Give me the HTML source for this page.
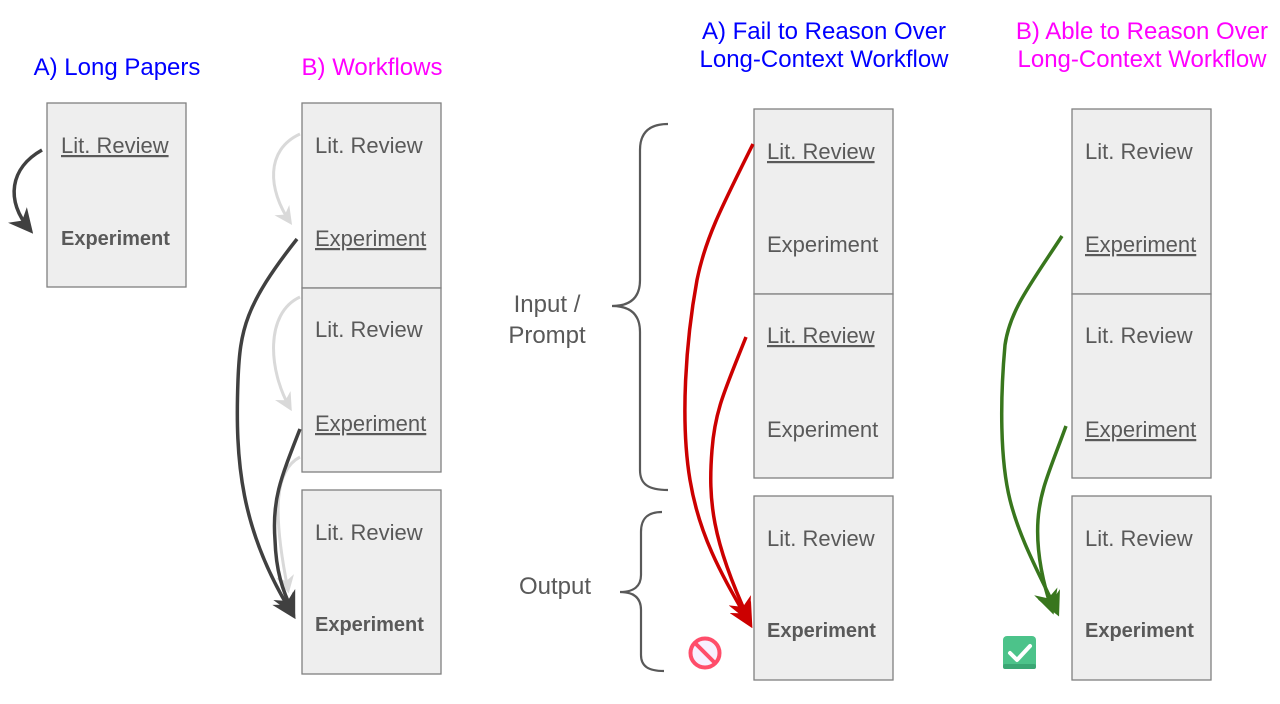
<!DOCTYPE html>
<html><head><meta charset="utf-8"><style>
html,body{margin:0;padding:0;background:#fff}
svg{display:block}
text{font-family:"Liberation Sans",Arial,sans-serif}
.t{font-size:22px;fill:#595959}
.b{font-size:20px;fill:#595959;font-weight:bold}
.box{fill:#eeeeee;stroke:#808080;stroke-width:1.3}
.ti{font-size:24px}
</style></head><body>
<svg width="1280" height="704" viewBox="0 0 1280 704" xmlns="http://www.w3.org/2000/svg">
<defs>
<marker id="ak" viewBox="0 0 10 10" refX="8" refY="5" markerWidth="7" markerHeight="7" orient="auto"><path d="M0,0 L10,5 L0,10 L3,5z" fill="#404040"/></marker>
<marker id="ag" viewBox="0 0 10 10" refX="8" refY="5" markerWidth="6" markerHeight="6" orient="auto"><path d="M0,0 L10,5 L0,10 L3,5z" fill="#d9d9d9"/></marker>
<marker id="ar" viewBox="0 0 10 10" refX="8" refY="5" markerWidth="7" markerHeight="7" orient="auto"><path d="M0,0 L10,5 L0,10 L3,5z" fill="#cc0000"/></marker>
<marker id="av" viewBox="0 0 10 10" refX="8" refY="5" markerWidth="7" markerHeight="7" orient="auto"><path d="M0,0 L10,5 L0,10 L3,5z" fill="#38761d"/></marker>
</defs>

<text class="ti" x="117" y="75" text-anchor="middle" fill="#0000ff">A) Long Papers</text>
<text class="ti" x="372" y="75" text-anchor="middle" fill="#ff00ff">B) Workflows</text>
<text class="ti" x="824" y="39" text-anchor="middle" fill="#0000ff">A) Fail to Reason Over</text>
<text class="ti" x="824" y="67" text-anchor="middle" fill="#0000ff">Long-Context Workflow</text>
<text class="ti" x="1142" y="39" text-anchor="middle" fill="#ff00ff">B) Able to Reason Over</text>
<text class="ti" x="1142" y="67" text-anchor="middle" fill="#ff00ff">Long-Context Workflow</text>

<rect class="box" x="47" y="103" width="139" height="184"/>
<text class="t" x="61" y="153" text-decoration="underline">Lit. Review</text>
<text class="b" x="61" y="245">Experiment</text>
<path d="M42,150 C10,168 5,200 30,230" fill="none" stroke="#404040" stroke-width="3.5" marker-end="url(#ak)"/>

<rect class="box" x="302" y="103" width="139" height="185"/>
<rect class="box" x="302" y="288" width="139" height="184"/>
<rect class="box" x="302" y="490" width="139" height="184"/>
<text class="t" x="315" y="153">Lit. Review</text>
<text class="t" x="315" y="246" text-decoration="underline">Experiment</text>
<text class="t" x="315" y="337">Lit. Review</text>
<text class="t" x="315" y="431" text-decoration="underline">Experiment</text>
<text class="t" x="315" y="540">Lit. Review</text>
<text class="b" x="315" y="631">Experiment</text>
<path d="M300,134 C265,150 268,190 290,222" fill="none" stroke="#d9d9d9" stroke-width="3" marker-end="url(#ag)"/>
<path d="M300,297 C265,313 268,370 290,408" fill="none" stroke="#d9d9d9" stroke-width="3" marker-end="url(#ag)"/>
<path d="M300,457 C275,470 272,510 288,590" fill="none" stroke="#d9d9d9" stroke-width="3" marker-end="url(#ag)"/>
<path d="M297,239 C245,305 240,330 238,380 C235,460 240,530 293,615" fill="none" stroke="#404040" stroke-width="3.5" marker-end="url(#ak)"/>
<path d="M300,429 C280,480 272,500 275,540 C276,570 282,590 293,612" fill="none" stroke="#404040" stroke-width="3.5" marker-end="url(#ak)"/>

<path d="M668,124 C648,124 640,134 640,150 L640,280 C640,298 630,306 612,306 C630,306 640,314 640,332 L640,470 C640,484 648,490 668,490" fill="none" stroke="#595959" stroke-width="2.2"/>
<path d="M662,512 C648,512 641,518 641,532 L641,575 C641,586 634,592 620,592 C634,592 641,598 641,610 L641,655 C641,666 648,671 664,671" fill="none" stroke="#595959" stroke-width="2.2"/>
<text x="547" y="312" text-anchor="middle" style="font-size:24px;fill:#595959">Input /</text>
<text x="547" y="343" text-anchor="middle" style="font-size:24px;fill:#595959">Prompt</text>
<text x="555" y="594" text-anchor="middle" style="font-size:24px;fill:#595959">Output</text>

<rect class="box" x="754" y="109" width="139" height="185"/>
<rect class="box" x="754" y="294" width="139" height="184"/>
<rect class="box" x="754" y="496" width="139" height="184"/>
<text class="t" x="767" y="159" text-decoration="underline">Lit. Review</text>
<text class="t" x="767" y="252">Experiment</text>
<text class="t" x="767" y="343" text-decoration="underline">Lit. Review</text>
<text class="t" x="767" y="437">Experiment</text>
<text class="t" x="767" y="546">Lit. Review</text>
<text class="b" x="767" y="637">Experiment</text>
<path d="M753,144 C720,210 705,240 697,280 C686,340 680,420 690,480 C700,540 725,580 750,624" fill="none" stroke="#cc0000" stroke-width="3.5" marker-end="url(#ar)"/>
<path d="M746,337 C725,390 715,410 712,450 C708,500 712,540 748,618" fill="none" stroke="#cc0000" stroke-width="3.5" marker-end="url(#ar)"/>
<circle cx="705" cy="653" r="14.5" fill="#f8f0ff" stroke="#ff4d6a" stroke-width="4"/>
<line x1="695" y1="643" x2="715" y2="663" stroke="#ff4d6a" stroke-width="4"/>

<rect class="box" x="1072" y="109" width="139" height="185"/>
<rect class="box" x="1072" y="294" width="139" height="184"/>
<rect class="box" x="1072" y="496" width="139" height="184"/>
<text class="t" x="1085" y="159">Lit. Review</text>
<text class="t" x="1085" y="252" text-decoration="underline">Experiment</text>
<text class="t" x="1085" y="343">Lit. Review</text>
<text class="t" x="1085" y="437" text-decoration="underline">Experiment</text>
<text class="t" x="1085" y="546">Lit. Review</text>
<text class="b" x="1085" y="637">Experiment</text>
<path d="M1062,236 C1030,285 1010,310 1005,345 C1000,400 1000,460 1010,500 C1020,540 1040,575 1057,612" fill="none" stroke="#38761d" stroke-width="3.5" marker-end="url(#av)"/>
<path d="M1066,426 C1050,470 1040,490 1038,520 C1036,550 1042,580 1052,610" fill="none" stroke="#38761d" stroke-width="3.5" marker-end="url(#av)"/>
<rect x="1003" y="636" width="33" height="33" rx="4" fill="#4cc38a"/>
<rect x="1003" y="664" width="33" height="5" rx="2" fill="#3aa774"/>
<path d="M1010,653 L1017,660 L1030,646" fill="none" stroke="#fff" stroke-width="4" stroke-linecap="round" stroke-linejoin="round"/>
</svg>
</body></html>
